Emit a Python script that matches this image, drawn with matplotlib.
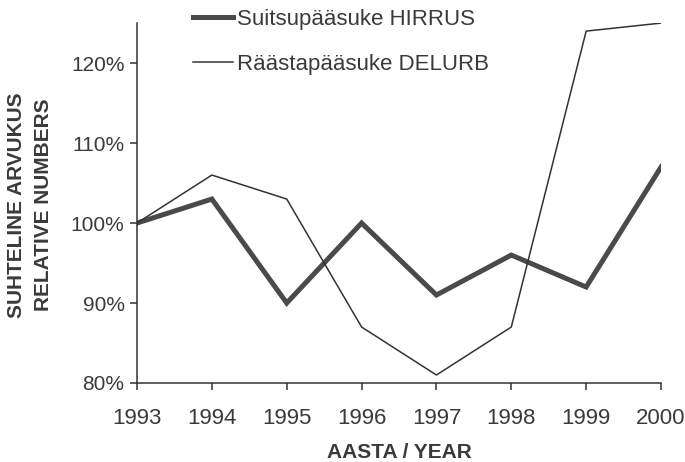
import matplotlib
matplotlib.use("Agg")
import matplotlib.pyplot as plt

years = [1993, 1994, 1995, 1996, 1997, 1998, 1999, 2000]
hirrus = [100, 103, 90, 100, 91, 96, 92, 107]
delurb = [100, 106, 103, 87, 81, 87, 124, 125]
yticks = [80, 90, 100, 110, 120]

plt.rcParams['font.family'] = ['Liberation Sans', 'DejaVu Sans']
txt = '#3a3a3a'

fig = plt.figure(figsize=(6.85, 4.62), dpi=100)
ax = fig.add_axes([0.2, 0.171, 0.765, 0.779])

ax.plot(years, hirrus, color='#4a4a4a', lw=3.6, solid_joinstyle='miter',
        label='Suitsupääsuke HIRRUS')
ax.plot(years, delurb, color='#333333', lw=1.1, label='Räästapääsuke DELURB')

ax.set_xlim(1993, 2000)
ax.set_ylim(80, 125)
ax.set_xticks(years)
ax.set_yticks(yticks)
ax.set_yticklabels([f'{v}%' for v in yticks])
for s in ['top', 'right']:
    ax.spines[s].set_visible(False)
for s in ['left', 'bottom']:
    ax.spines[s].set_color('#333333')
    ax.spines[s].set_linewidth(1.1)
ax.tick_params(axis='both', colors='#333333', labelcolor=txt, length=5, width=1.1)
ax.tick_params(axis='x', labelsize=16, pad=13)
ax.tick_params(axis='y', labelsize=15, pad=4)

ax.set_xlabel('AASTA / YEAR', fontsize=15, fontweight='bold', color=txt, labelpad=10)
fig.text(0.024, 0.556, 'SUHTELINE ARVUKUS', rotation=90, ha='center', va='center',
         fontsize=15, fontweight='bold', color=txt)
fig.text(0.063, 0.556, 'RELATIVE NUMBERS', rotation=90, ha='center', va='center',
         fontsize=15, fontweight='bold', color=txt)

leg = fig.legend(loc='upper left', bbox_to_anchor=(0.282, 0.98), frameon=False,
                 fontsize=16, handlelength=1.8, handletextpad=0.15,
                 labelspacing=1.05, borderaxespad=0, borderpad=0)
for t in leg.get_texts():
    t.set_color(txt)

fig.savefig('out.png', dpi=100, facecolor='white')
